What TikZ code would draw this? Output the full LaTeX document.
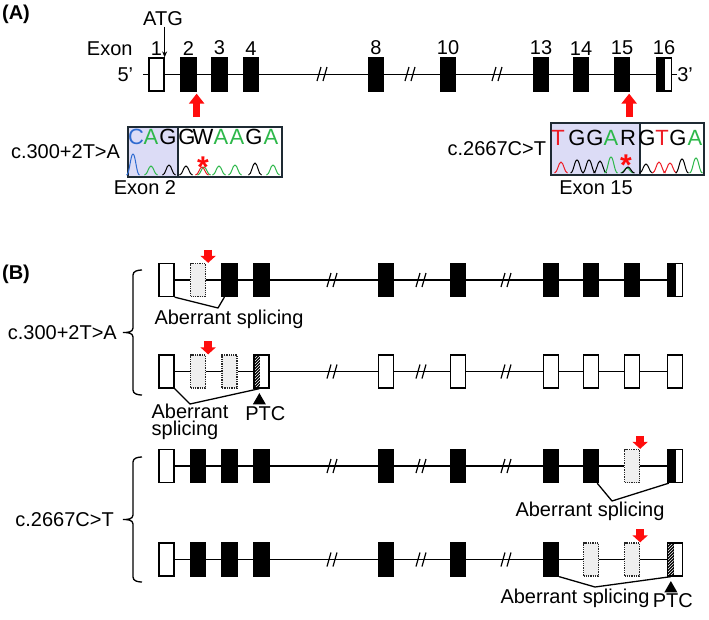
\documentclass[tikz,border=0pt]{standalone}
\usepackage{fontspec}
\setmainfont{Liberation Sans}
\usetikzlibrary{arrows.meta,positioning,shapes.geometric,patterns}
\definecolor{SeqBlue}{HTML}{2F6BD0}
\definecolor{SeqGreen}{HTML}{2DB84A}
\definecolor{SeqRed}{HTML}{EE1C25}
\definecolor{MarkRed}{HTML}{FF0D0D}
\definecolor{ShadeBlue}{HTML}{DCDCF6}
\definecolor{FrameDark}{HTML}{1E2A33}
\definecolor{SkipGray}{HTML}{EFEFEF}
\tikzset{
  exon/.style={draw, line width=1.3pt, inner sep=0pt, minimum width=15pt, minimum height=33pt},
  utrex/.style={exon, fill=white},
  cdsex/.style={exon, fill=black},
  skipex/.style={exon, draw=black!85, densely dotted, fill=SkipGray},
  halfex/.style={exon, fill=white, path picture={\fill[black] (path picture bounding box.south west) rectangle ([xshift=1pt]path picture bounding box.north);}},
  hatchex/.style={exon, fill=white, path picture={\fill[black] (path picture bounding box.south west) rectangle ([xshift=6pt]path picture bounding box.north west);
      \fill[pattern=north east lines, pattern color=white] (path picture bounding box.south west) rectangle ([xshift=6pt]path picture bounding box.north west);}},
  seqframe/.style={draw=FrameDark, line width=1.6pt, fill=white, inner sep=0pt},
  shaded/.style={path picture={\fill[ShadeBlue] (path picture bounding box.south west) rectangle ([xshift=#1]path picture bounding box.north west);
      \draw[FrameDark, line width=1.6pt] ([xshift=#1]path picture bounding box.south west) -- ([xshift=#1]path picture bounding box.north west);}},
  seqletter/.style={anchor=base, font=\fontsize{22}{22}\selectfont},
  star/.style={anchor=base, text=MarkRed, font=\fontsize{30}{30}\selectfont\bfseries},
  trace/.style={line width=1pt},
  intron/.style={line width=1.2pt},
  brk/.style={line width=1.2pt},
  splice/.style={line width=1.3pt, line join=round},
  bigmark/.style={draw=MarkRed, line width=7pt, -{Triangle[length=10pt,width=15pt]}},
  smallmark/.style={draw=MarkRed, line width=8pt, -{Triangle[length=7pt,width=15pt]}},
  ptc/.style={regular polygon, regular polygon sides=3, fill=black, inner sep=0pt, minimum size=15pt},
  genobrace/.style={line width=1.3pt},
  panellabel/.style={font=\fontsize{20}{24}\selectfont\bfseries}
}
\begin{document}
\begin{tikzpicture}[x=1pt, y=-1pt, font=\fontsize{20}{24}\selectfont, inner sep=1pt]
  \useasboundingbox (0,0) rectangle (709,619);

  % (A) gene structure
  \node[panellabel] (pa) at (16,14) {(A)};
  \foreach \n/\xx/\s in {1/156.5/utrex, 2/188.5/cdsex, 3/219.5/cdsex, 4/251/cdsex, 8/376/cdsex, 10/448/cdsex, 13/541/cdsex, 14/581/cdsex, 15/622/cdsex, 16/664/halfex} {
    \node[\s] (a\n) at (\xx,74.5) {};
    \node[above=1pt of a\n] (n\n) {\n};
  }
  \foreach \i/\j in {1/2, 2/3, 3/4, 4/8, 8/10, 10/13, 13/14, 14/15, 15/16}
    \draw[intron] (a\i.east) -- (a\j.west);
  \foreach \bx in {322,410,497}
    \draw[brk, shift={(\bx,74)}] (-5,7) -- (-1,-7) (1,7) -- (5,-7);
  \node[left=16pt of n1] (exonlbl) {Exon};
  \node[left=14pt of a1] (five) {5’};
  \draw[intron] ([xshift=-5pt]a1.west) -- (a1.west);
  \node[right=5pt of a16, inner sep=0pt] (three) {3’};
  \draw[intron] (a16.east) -- (three.west);
  \node (atg) at (163,18.5) {ATG};
  \draw[line width=1pt, -{Stealth[length=6pt,width=5pt]}] (atg.south -| a1.north east) -- (a1.north east);

  % chromatograms
  \node[seqframe, shaded=50pt, minimum width=154pt, minimum height=50pt] (sq1) at (205,152) {};
  \node[seqframe, shaded=89pt, minimum width=153pt, minimum height=52pt] (sq2) at (627.5,149) {};
  \foreach \ch/\lx/\lc [count=\k] in {C/136/SeqBlue, A/151/SeqGreen, G/168/black, G/187/black, W/203/black, A/221/SeqGreen, A/237/SeqGreen, G/254/black, A/271/SeqGreen}
    \node[seqletter, text=\lc] (la\k) at (\lx,144) {\ch};
  \foreach \ch/\lx/\lc [count=\k] in {T/558/SeqRed, G/577/black, G/595/black, A/611/SeqGreen, R/628/black, G/647/black, T/662/SeqRed, G/678/black, A/695/SeqGreen}
    \node[seqletter, text=\lc] (lb\k) at (\lx,145.5) {\ch};
  \foreach \px/\ph/\pc in {133/21/SeqBlue, 151/9/SeqGreen, 169/10/black, 186/9/black, 204/8/SeqGreen, 202/8/SeqRed, 219/9/SeqGreen, 235/10/SeqGreen, 255/12/black, 273/10/SeqGreen}
    \draw[trace, \pc] ({\px-6.5},175) .. controls ({\px-3.5},175) and ({\px-2.5},{175-\ph}) .. (\px,{175-\ph}) .. controls ({\px+2.5},{175-\ph}) and ({\px+3.5},175) .. ({\px+6.5},175);
  \foreach \px/\ph/\pc in {561/11/SeqRed, 577/13/black, 589/13/black, 600/12/black, 611/16/SeqGreen, 627/5/SeqGreen, 628/6/black, 646/9/black, 659/11/SeqRed, 670/10/SeqRed, 682/14/black, 696/15/SeqGreen}
    \draw[trace, \pc] ({\px-6.5},173) .. controls ({\px-3.5},173) and ({\px-2.5},{173-\ph}) .. (\px,{173-\ph}) .. controls ({\px+2.5},{173-\ph}) and ({\px+3.5},173) .. ({\px+6.5},173);
  \node[star] (st1) at (203,177) {*};
  \node[star] (st2) at (626,175) {*};
  \node[left=6pt of sq1] (mut1) {c.300+2T>A};
  \node[left=3pt of sq2] (mut2) {c.2667C>T};
  \node (ex2lbl) at (145,188) {Exon 2};
  \node (ex15lbl) at (596,188) {Exon 15};
  \draw[bigmark, shorten <=9pt, shorten >=2pt] (sq1.north -| a2.south east) -- (a2.south east);
  \draw[bigmark, shorten <=5pt, shorten >=2pt] ([xshift=-1pt]sq2.north -| a15.south east) -- ([xshift=-1pt]a15.south east);

  % (B) transcripts
  \node[panellabel] (pb) at (16,274) {(B)};
  \foreach \r/\yy/\sl in {1/280/{utrex,skipex,cdsex,cdsex,cdsex,cdsex,cdsex,cdsex,cdsex,halfex},
                          2/371.5/{utrex,skipex,skipex,hatchex,utrex,utrex,utrex,utrex,utrex,utrex},
                          3/466/{utrex,cdsex,cdsex,cdsex,cdsex,cdsex,cdsex,cdsex,skipex,halfex},
                          4/559.5/{utrex,cdsex,cdsex,cdsex,cdsex,cdsex,cdsex,skipex,skipex,hatchex}} {
    \foreach \s [count=\k] in \sl {
      \pgfmathsetmacro\xx{{166.5,198,229.5,261.5,386,458,551,591,632,675}[\k-1]}
      \pgfmathtruncatemacro\nn{{1,2,3,4,8,10,13,14,15,16}[\k-1]}
      \node[\s] (b\r-\nn) at (\xx,\yy) {};
    }
    \foreach \i/\j in {1/2, 2/3, 3/4, 4/8, 8/10, 10/13, 13/14, 14/15, 15/16}
      \draw[intron] (b\r-\i.east) -- (b\r-\j.west);
    \foreach \bx in {332,421,506}
      \draw[brk, shift={(\bx,\yy)}] (-5,7) -- (-1,-7) (1,7) -- (5,-7);
  }
  \draw[smallmark] ([shift={(2,-13)}]b1-2.north east) -- ([xshift=2pt]b1-2.north east);
  \draw[smallmark] ([shift={(2,-13)}]b2-2.north east) -- ([xshift=2pt]b2-2.north east);
  \draw[smallmark] ([shift={(0,-13)}]b3-15.north east) -- (b3-15.north east);
  \draw[smallmark] ([shift={(0,-13)}]b4-15.north east) -- (b4-15.north east);

  \coordinate (t1) at (123,332.5);
  \draw[genobrace] (142,270) to[out=180,in=90] (133,275) -- (133,328) to[out=-90,in=0] (t1) to[out=0,in=90] (133,337) -- (133,390) to[out=-90,in=180] (142,395);
  \node[left=5pt of t1] (m1) {c.300+2T>A};
  \coordinate (t2) at (123,519.5);
  \draw[genobrace] (142,457) to[out=180,in=90] (133,462) -- (133,515) to[out=-90,in=0] (t2) to[out=0,in=90] (133,524) -- (133,577) to[out=-90,in=180] (142,582);
  \node[left=8pt of t2] (m2) {c.2667C>T};

  \coordinate (v1) at (218,308);
  \draw[splice] (b1-1.south east) -- (v1) -- ([xshift=3pt]b1-3.south west);
  \node (sp1) at (229,319) {Aberrant splicing};

  \coordinate (v2) at (190,404);
  \node[ptc, anchor=corner 1] (p1) at ([shift={(6,4)}]b2-4.south west) {};
  \draw[splice] (b2-1.south east) -- (v2) -- ([xshift=6pt]b2-4.south west);
  \node[below=1pt of p1, xshift=6pt] (ptc1) {PTC};
  \node[align=left, font=\fontsize{20}{17}\selectfont] (sp2) at (190,422) {Aberrant\\splicing};

  \coordinate (v3) at (612,501);
  \draw[splice] ([xshift=-2pt]b3-14.south east) -- (v3) -- ([xshift=2pt]b3-16.south west);
  \node (sp3) at (590,511) {Aberrant splicing};

  \coordinate (v4) at (595,587);
  \node[ptc, anchor=corner 1] (p2) at ([shift={(4,4)}]b4-16.south west) {};
  \draw[splice] (b4-13.south east) -- (v4) -- ([xshift=4pt]b4-16.south west);
  \node[below=0pt of p2, xshift=2pt] (ptc2) {PTC};
  \node (sp4) at (575,598) {Aberrant splicing};
\end{tikzpicture}
\end{document}
